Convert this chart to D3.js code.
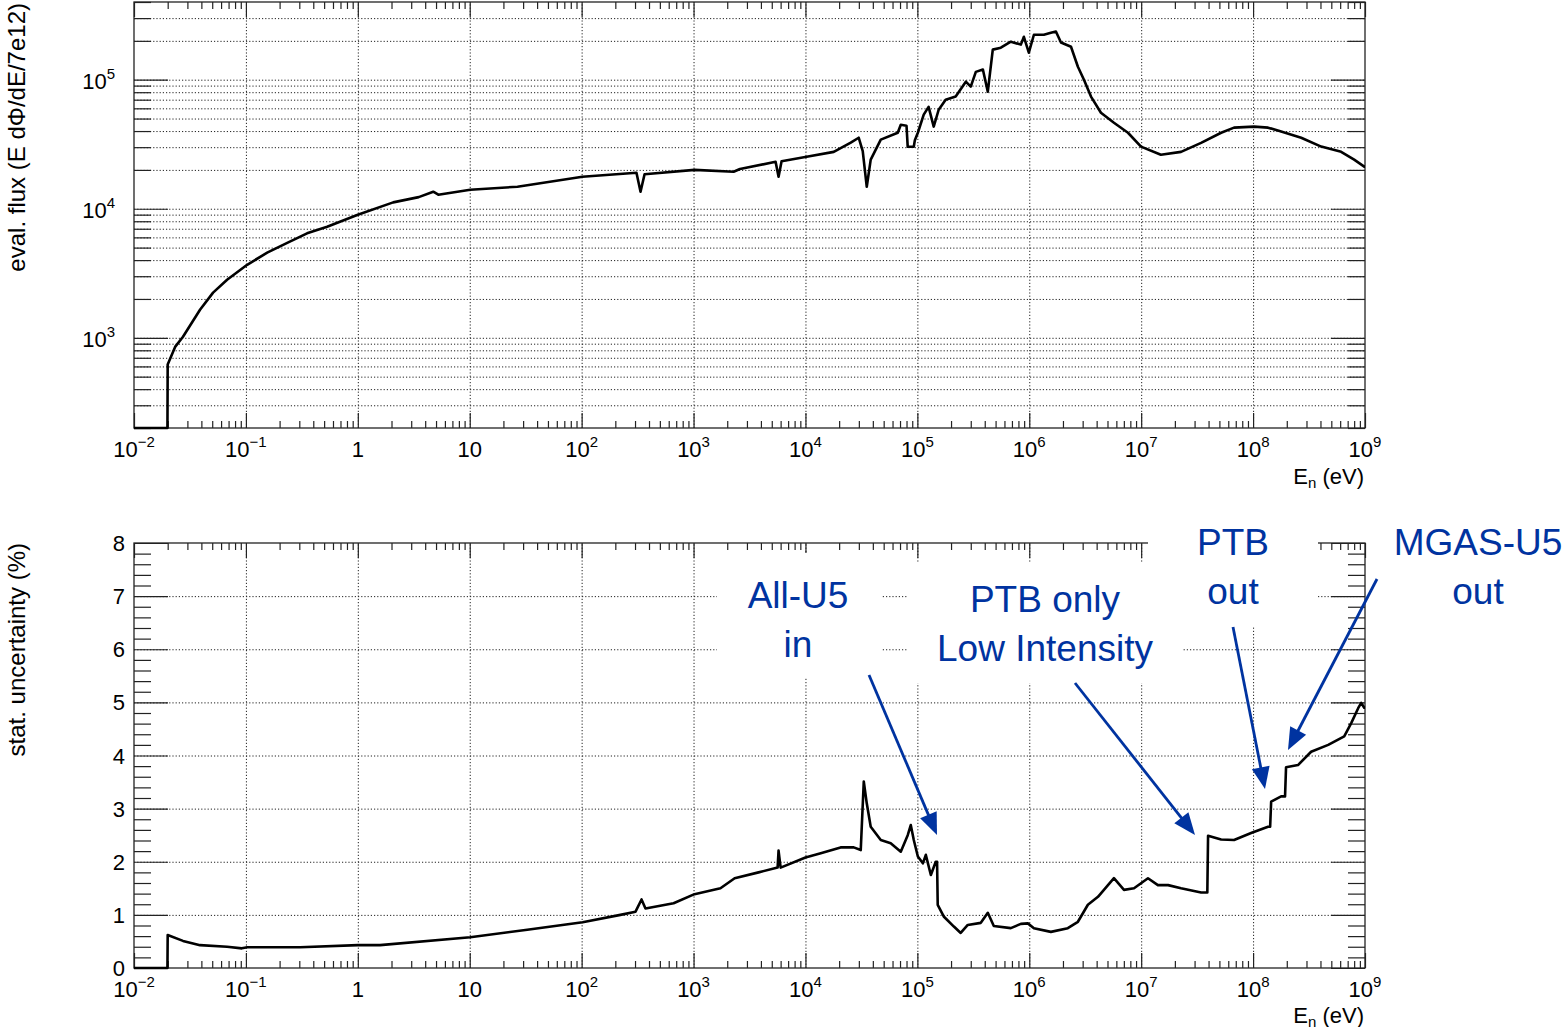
<!DOCTYPE html>
<html><head><meta charset="utf-8">
<script src="https://cdn.jsdelivr.net/npm/d3@7"></script>
<style>
body{margin:0;background:#fff}
svg text{font-family:"Liberation Sans",Arial,Helvetica,sans-serif;fill:#000}
</style>
</head><body>
<svg id="c" width="1566" height="1027"></svg>
<script>
// ---------------- data ----------------
const fluxEnergy = [0.01,0.0199,0.02,0.0233,0.0274,0.0389,0.0509,0.0679,0.1026,0.155,0.234,0.352,0.532,1.0,2.07,3.5,4.72,5.24,10.1,26.7,101.6,309,336,365,1020,2280,2600,5410,5750,6120,10250,17900,25400,29900,32500,35300,38300,47100,66800,71100,80000,82000,92900,95000,101000,114000,126000,140000,155000,179000,220000,271000,300000,333000,385000,426000,472000,557000,684000,841000,895000,991000,1.10e6,1.35e6,1.56e6,1.73e6,1.92e6,2.36e6,2.72e6,3.08e6,3.56e6,4.37e6,5.71e6,7.62e6,9.96e6,1.50e7,2.27e7,3.43e7,5.18e7,6.76e7,1.02e8,1.36e8,1.78e8,2.69e8,4.06e8,6.12e8,8.0e8,9.84e8,1e9];
const fluxValue  = [0,0,620,850,1020,1650,2240,2820,3680,4570,5440,6450,7250,8980,11200,12300,13550,12850,14030,14820,17700,19000,13550,18500,20000,19350,20300,23100,17700,23300,25300,27600,32500,35500,28000,14800,24000,34300,38800,44700,44000,30200,30200,34000,38800,53600,61600,43300,58500,70000,74000,96500,88300,115000,120000,80700,171000,177000,197000,187000,215000,162000,223000,223000,231000,236000,194000,180000,126000,100000,74000,55500,46400,38800,30300,26200,27600,32400,38800,42500,43300,42500,39700,35500,30300,27600,24000,21200,21200];

const uncEnergy = [0.01,0.0199,0.02,0.0274,0.0389,0.0679,0.092,0.103,0.305,1.0,1.58,10.1,32.7,102,222,303,343,372,663,1020,1740,2330,3810,5640,5750,6000,10000,13700,20600,27000,31200,33200,35300,38300,47100,57800,71100,82000,87300,92900,101000,112000,119000,132000,146000,150000,152000,172000,212000,244000,282000,369000,426000,482000,684000,841000,971000,1.10e6,1.56e6,2.21e6,2.72e6,3.34e6,4.11e6,5.05e6,5.71e6,7.02e6,8.63e6,1.15e7,1.41e7,1.74e7,2.27e7,3.43e7,3.9e7,3.96e7,5.18e7,6.76e7,9.6e7,1.36e8,1.42e8,1.45e8,1.78e8,1.93e8,1.97e8,2.52e8,3.30e8,4.69e8,6.52e8,7.53e8,8.69e8,9.25e8,9.84e8,1e9];
const uncValue  = [0,0,0.62,0.51,0.43,0.40,0.37,0.39,0.39,0.43,0.43,0.58,0.72,0.86,1.0,1.06,1.29,1.12,1.22,1.39,1.50,1.69,1.80,1.89,2.21,1.89,2.08,2.16,2.27,2.27,2.22,3.51,3.1,2.66,2.41,2.35,2.19,2.5,2.69,2.41,2.1,1.97,2.13,1.75,2.0,2.0,1.19,0.97,0.78,0.66,0.81,0.85,1.04,0.79,0.75,0.83,0.84,0.75,0.68,0.75,0.87,1.19,1.34,1.56,1.69,1.47,1.50,1.69,1.56,1.56,1.50,1.42,1.42,2.49,2.42,2.41,2.54,2.66,2.66,3.13,3.23,3.23,3.78,3.82,4.07,4.2,4.36,4.61,4.89,4.99,4.9,4.9];

const xTickExponents = [-2,-1,0,1,2,3,4,5,6,7,8,9];
const fluxTickExponents = [3,4,5];
const uncTicks = [0,1,2,3,4,5,6,7,8];
const xTitle = ["E", "n", " (eV)"];
const fluxTitle = "eval. flux (E d\u03A6/dE/7e12)";
const uncTitle = "stat. uncertainty (%)";
const annotationTexts = [["All-U5","in"],["PTB only","Low Intensity"],["PTB","out"],["MGAS-U5","out"]];

// ---------------- layout ----------------
const svg = d3.select("#c");
const X0 = 134, X1 = 1365;
const x = d3.scaleLog().domain([1e-2, 1e9]).range([X0, X1]);
const topP = {t: 2, b: 428, title: 484};
const botP = {t: 543, b: 968, title: 1023};
const yFlux = d3.scaleLog().domain([200, 4e5]).range([topP.b, topP.t]);
const yUnc = d3.scaleLinear().domain([0, 8]).range([botP.b, botP.t]);
const INK = "#222";
const BLUE = "#0033A0";

const xMajor = xTickExponents.map(e => Math.pow(10, e));
const xMinor = [];
for (let e = -2; e < 9; e++) for (let k = 2; k <= 9; k++) xMinor.push(k * Math.pow(10, e));

function powLabel(t, e) {
  if (e === 0) { t.text("1"); return; }
  if (e === 1) { t.text("10"); return; }
  t.append("tspan").text("10");
  t.append("tspan").attr("dy", -10).attr("font-size", 15).text(e < 0 ? "\u2212" + (-e) : String(e));
}

function styleAxis(g, dashed) {
  g.select(".domain").remove();
  g.selectAll(".tick line").attr("stroke", INK).attr("stroke-width", dashed ? 1 : 1.2)
    .attr("stroke-dasharray", dashed ? "1.2,2" : null);
  g.selectAll(".tick text").remove();
}

function panel(P, y, yMajor, yMinor, yGrid) {
  const h = P.b - P.t, w = X1 - X0;
  const gx = svg.append("g").attr("transform", `translate(0,${P.b})`)
    .call(d3.axisBottom(x).tickValues(xMajor.slice(1, -1)).tickSizeInner(-h).tickSizeOuter(0));
  styleAxis(gx, true);
  const gy = svg.append("g").attr("transform", `translate(${X0},0)`)
    .call(d3.axisLeft(y).tickValues(yGrid).tickSizeInner(-w).tickSizeOuter(0));
  styleAxis(gy, true);
  svg.append("rect").attr("x", X0).attr("y", P.t).attr("width", w).attr("height", h)
    .attr("fill", "none").attr("stroke", INK).attr("stroke-width", 1.3);
  [[d3.axisBottom, P.b], [d3.axisTop, P.t]].forEach(([ax, yy]) => {
    const a1 = svg.append("g").attr("transform", `translate(0,${yy})`)
      .call(ax(x).tickValues(xMajor).tickSizeInner(-15).tickSizeOuter(0));
    styleAxis(a1, false);
    const a2 = svg.append("g").attr("transform", `translate(0,${yy})`)
      .call(ax(x).tickValues(xMinor).tickSizeInner(-7).tickSizeOuter(0));
    styleAxis(a2, false);
  });
  [[d3.axisLeft, X0], [d3.axisRight, X1]].forEach(([ax, xx]) => {
    const a1 = svg.append("g").attr("transform", `translate(${xx},0)`)
      .call(ax(y).tickValues(yMajor).tickSizeInner(-34).tickSizeOuter(0));
    styleAxis(a1, false);
    const a2 = svg.append("g").attr("transform", `translate(${xx},0)`)
      .call(ax(y).tickValues(yMinor).tickSizeInner(-17).tickSizeOuter(0));
    styleAxis(a2, false);
  });
  xTickExponents.forEach(e => {
    const t = svg.append("text").attr("x", x(Math.pow(10, e))).attr("y", P.b + 29)
      .attr("text-anchor", "middle").attr("font-size", 22);
    powLabel(t, e);
  });
  const tt = svg.append("text").attr("x", X1 - 1).attr("y", P.title)
    .attr("text-anchor", "end").attr("font-size", 22);
  tt.append("tspan").text(xTitle[0]);
  tt.append("tspan").attr("dy", 4).attr("font-size", 15).text(xTitle[1]);
  tt.append("tspan").attr("dy", -4).text(xTitle[2]);
}

// ---------------- top panel ----------------
const fluxMinor = [];
for (let e = 2; e <= 5; e++) for (let k = 2; k <= 9; k++) {
  const v = k * Math.pow(10, e);
  if (v >= 200 && v <= 4e5) fluxMinor.push(v);
}
const fluxMajor = fluxTickExponents.map(e => Math.pow(10, e));
panel(topP, yFlux, fluxMajor, fluxMinor, fluxMajor.concat(fluxMinor).filter(v => v > 200 && v < 4e5));
fluxTickExponents.forEach(e => {
  const t = svg.append("text").attr("x", 115).attr("y", yFlux(Math.pow(10, e)) + 9)
    .attr("text-anchor", "end").attr("font-size", 22);
  powLabel(t, e);
});
svg.append("text").attr("transform", `translate(25,${topP.t + 1}) rotate(-90)`)
  .attr("text-anchor", "end").attr("font-size", 24).text(fluxTitle);

const fluxPts = fluxEnergy.map((E, i) => [E, fluxValue[i]]);
svg.append("path").datum(fluxPts)
  .attr("d", d3.line()
    .x(d => x(d[0]))
    .y(d => d[1] <= 200 ? topP.b : yFlux(d[1])))
  .attr("fill", "none").attr("stroke", "#000").attr("stroke-width", 2.6).attr("stroke-linejoin", "round");

// ---------------- bottom panel ----------------
const uncMinor = d3.range(0, 40).map(i => i * 0.2).filter((v, i) => i % 5 !== 0);
panel(botP, yUnc, uncTicks, uncMinor, uncTicks.slice(1, -1));
uncTicks.forEach(v => {
  svg.append("text").attr("x", 125).attr("y", yUnc(v) + 8).attr("text-anchor", "end")
    .attr("font-size", 22).text(v);
});
svg.append("text").attr("transform", `translate(25,${botP.t}) rotate(-90)`)
  .attr("text-anchor", "end").attr("font-size", 24).text(uncTitle);

const uncPts = uncEnergy.map((E, i) => [E, uncValue[i]]);
svg.append("path").datum(uncPts)
  .attr("d", d3.line().x(d => x(d[0])).y(d => yUnc(d[1])))
  .attr("fill", "none").attr("stroke", "#000").attr("stroke-width", 2.6).attr("stroke-linejoin", "round");

// ---------------- annotations ----------------
const boxes = [[717,553,165,124],[908,563,274,120],[1148,505,170,122],[1370,505,196,115]];
const textPos = [[798,608],[1045,612],[1233,555],[1478,555]];
const arrows = [[869,675,937,835],[1075,683,1195,835],[1233,627,1265,789],[1377,579,1288,750]];
boxes.forEach(b => svg.append("rect").attr("x", b[0]).attr("y", b[1]).attr("width", b[2]).attr("height", b[3]).attr("fill", "#fff"));
annotationTexts.forEach((lines, i) => {
  lines.forEach((s, j) => svg.append("text").attr("x", textPos[i][0]).attr("y", textPos[i][1] + j * 49)
    .attr("text-anchor", "middle").attr("font-size", 37).style("fill", BLUE).text(s));
});
arrows.forEach(([x1, y1, x2, y2]) => {
  const dx = x2 - x1, dy = y2 - y1, L = Math.hypot(dx, dy), ux = dx / L, uy = dy / L;
  const hl = 22, hw = 9;
  const bx = x2 - ux * hl, by = y2 - uy * hl;
  svg.append("line").attr("x1", x1).attr("y1", y1).attr("x2", bx + ux * 2).attr("y2", by + uy * 2)
    .attr("stroke", BLUE).attr("stroke-width", 2.8);
  svg.append("path").attr("d", `M${x2},${y2}L${bx - uy * hw},${by + ux * hw}L${bx + uy * hw},${by - ux * hw}Z`)
    .attr("fill", BLUE);
});
</script>
</body></html>
